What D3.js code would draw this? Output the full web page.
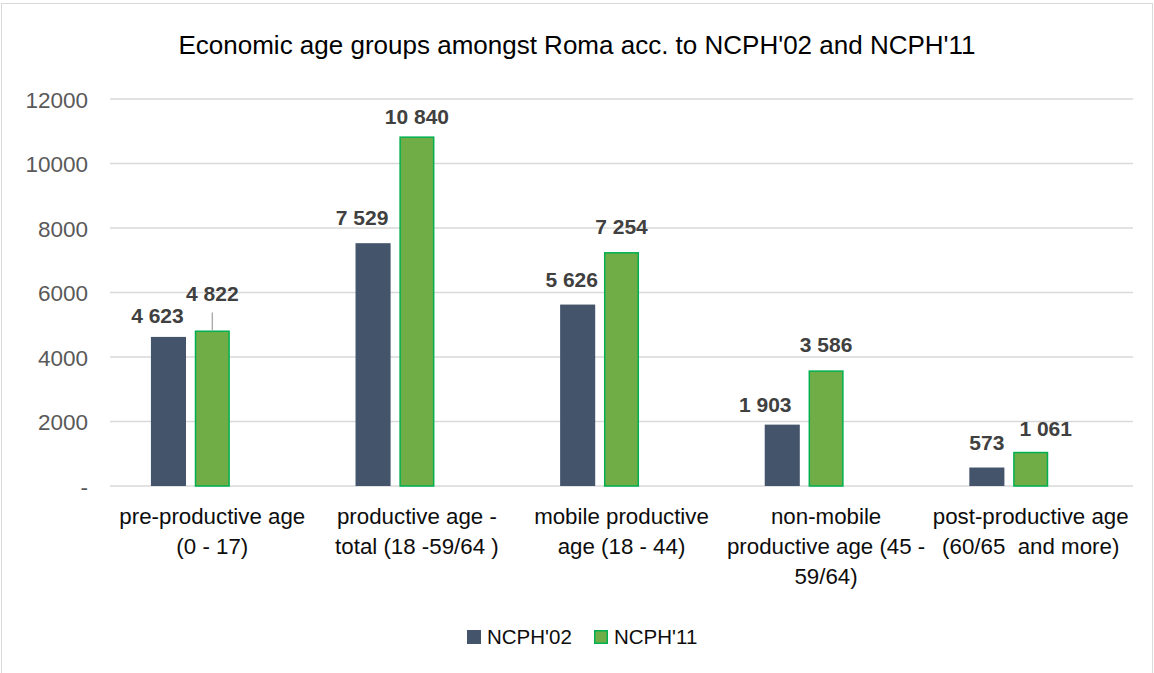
<!DOCTYPE html>
<html>
<head>
<meta charset="utf-8">
<script src="https://cdn.jsdelivr.net/npm/d3@7"></script>
<style>
  body { margin: 0; background: #fff; }
  svg { display: block; font-family: "Liberation Sans", Arial, sans-serif; }
</style>
</head>
<body>
<svg id="chart" width="1154" height="673"></svg>
<script>
'use strict';

// data
var categories = [
    ['pre-productive age', '(0 - 17)'],
    ['productive age -', 'total (18 -59/64 )'],
    ['mobile productive', 'age (18 - 44)'],
    ['non-mobile', 'productive age (45 -', '59/64)'],
    ['post-productive age', '(60/65  and more)']
];
var seriesNames = ["NCPH'02", "NCPH'11"];
var ncph02 = [4623, 7529, 5626, 1903, 573];
var ncph11 = [4822, 10840, 7254, 3586, 1061];
var yTicks = [0, 2000, 4000, 6000, 8000, 10000, 12000];

// hand moved data labels, as in the original [series][category] = [dx, dy]
var labelNudge = [
    [[-11, 4], [-11, 0], [-6, 0], [-17, 5], [0, 0]],
    [[0, -11], [0, 6], [0, 0], [0, 0], [15, 2]]
];

(function() {
    var plotLeft = 110, plotRight = 1133, plotTop = 99, plotBottom = 486;

    var svg = d3.select('#chart');

    svg.append('rect')
        .attr('x', 1.5).attr('y', 3.5)
        .attr('width', 1151).attr('height', 680)
        .style('fill', '#fff').style('stroke', '#d9d9d9').style('stroke-width', 1);

    svg.append('text')
        .attr('x', 577).attr('y', 54)
        .attr('text-anchor', 'middle')
        .style('font-size', '26px').style('fill', '#000')
        .text("Economic age groups amongst Roma acc. to NCPH'02 and NCPH'11");

    var y = d3.scaleLinear().domain([0, 12000]).range([plotBottom, plotTop]);
    var x0 = d3.scaleBand().domain(d3.range(categories.length))
        .range([plotLeft, plotRight]).paddingInner(0.4).paddingOuter(0.2);
    // Excel left room for a third (empty) series, so groups sit left of centre
    var x1 = d3.scaleBand().domain([0, 1, 2]).range([0, x0.bandwidth()]).paddingInner(0.2);

    // grid
    svg.append('g').selectAll('line').data(yTicks).enter()
        .append('line')
        .attr('x1', plotLeft).attr('x2', plotRight)
        .attr('y1', function(d) { return y(d); })
        .attr('y2', function(d) { return y(d); })
        .style('stroke', '#d9d9d9').style('stroke-width', 1.3);

    // y axis labels
    var yAxis = d3.axisLeft(y).tickValues(yTicks).tickSize(0).tickPadding(0)
        .tickFormat(function(d) { return d === 0 ? '-' : d; });
    var ya = svg.append('g').attr('transform', 'translate(88,0)').call(yAxis);
    ya.select('.domain').remove();
    ya.selectAll('text')
        .attr('dy', '0.36em')
        .style('font-family', '"Liberation Sans", Arial, sans-serif')
        .style('font-size', '22.5px').style('fill', '#595959');

    var series = [ncph02, ncph11];
    var fills = ['#44546a', '#70ad47'];
    var strokes = ['none', '#00b050'];

    series.forEach(function(vals, s) {
        var g = svg.append('g');
        g.selectAll('rect').data(vals).enter()
            .append('rect')
            .attr('x', function(d, i) { return x0(i) + x1(s) + (s ? 0.75 : 0); })
            .attr('y', function(d) { return y(d) + (s ? 0.75 : 0); })
            .attr('width', x1.bandwidth() - (s ? 1.5 : 0))
            .attr('height', function(d) { return plotBottom - y(d) - (s ? 0.75 : 0); })
            .style('fill', fills[s])
            .style('stroke', strokes[s])
            .style('stroke-width', 1.5);
    });

    // data labels
    series.forEach(function(vals, s) {
        svg.append('g').selectAll('text').data(vals).enter()
            .append('text')
            .attr('x', function(d, i) { return x0(i) + x1(s) + x1.bandwidth() / 2 + labelNudge[s][i][0]; })
            .attr('y', function(d, i) { return y(d) - 18 + labelNudge[s][i][1]; })
            .attr('text-anchor', 'middle')
            .style('font-size', '21px').style('font-weight', 'bold').style('fill', '#404040')
            .text(function(d) { return d3.format(',')(d).replace(/,/g, ' '); });
    });

    // leader line for the moved 4 822 label
    var lx = x0(0) + x1(1) + x1.bandwidth() / 2;
    svg.append('line')
        .attr('x1', lx).attr('x2', lx)
        .attr('y1', y(ncph11[0]) - 18)
        .attr('y2', y(ncph11[0]))
        .style('stroke', '#a6a6a6').style('stroke-width', 1.3);

    // category labels
    var cat = svg.append('g').selectAll('text').data(categories).enter()
        .append('text')
        .attr('text-anchor', 'middle')
        .style('white-space', 'pre')
        .style('font-size', '22.3px').style('fill', '#0d0d0d');
    cat.selectAll('tspan').data(function(d, i) { return d.map(function(t) { return {t: t, i: i}; }); })
        .enter().append('tspan')
        .attr('x', function(d) { return x0(d.i) + x0.bandwidth() / 2; })
        .attr('y', function(d, j) { return 524 + j * 30; })
        .text(function(d) { return d.t; });

    // legend
    var legendX = [467, 594];
    var lg = svg.append('g').selectAll('g').data(seriesNames).enter()
        .append('g')
        .attr('transform', function(d, i) { return 'translate(' + legendX[i] + ',630)'; });
    lg.append('rect')
        .attr('x', function(d, i) { return i ? 0.75 : 0; })
        .attr('y', function(d, i) { return i ? 0.75 : 0; })
        .attr('width', function(d, i) { return i ? 12.5 : 14; })
        .attr('height', function(d, i) { return i ? 12.5 : 14; })
        .style('fill', function(d, i) { return fills[i]; })
        .style('stroke', function(d, i) { return strokes[i]; })
        .style('stroke-width', 1.5);
    lg.append('text')
        .attr('x', 20).attr('y', 14)
        .style('font-size', '20.5px').style('fill', '#0d0d0d')
        .text(function(d) { return d; });
})();
</script>
</body>
</html>
